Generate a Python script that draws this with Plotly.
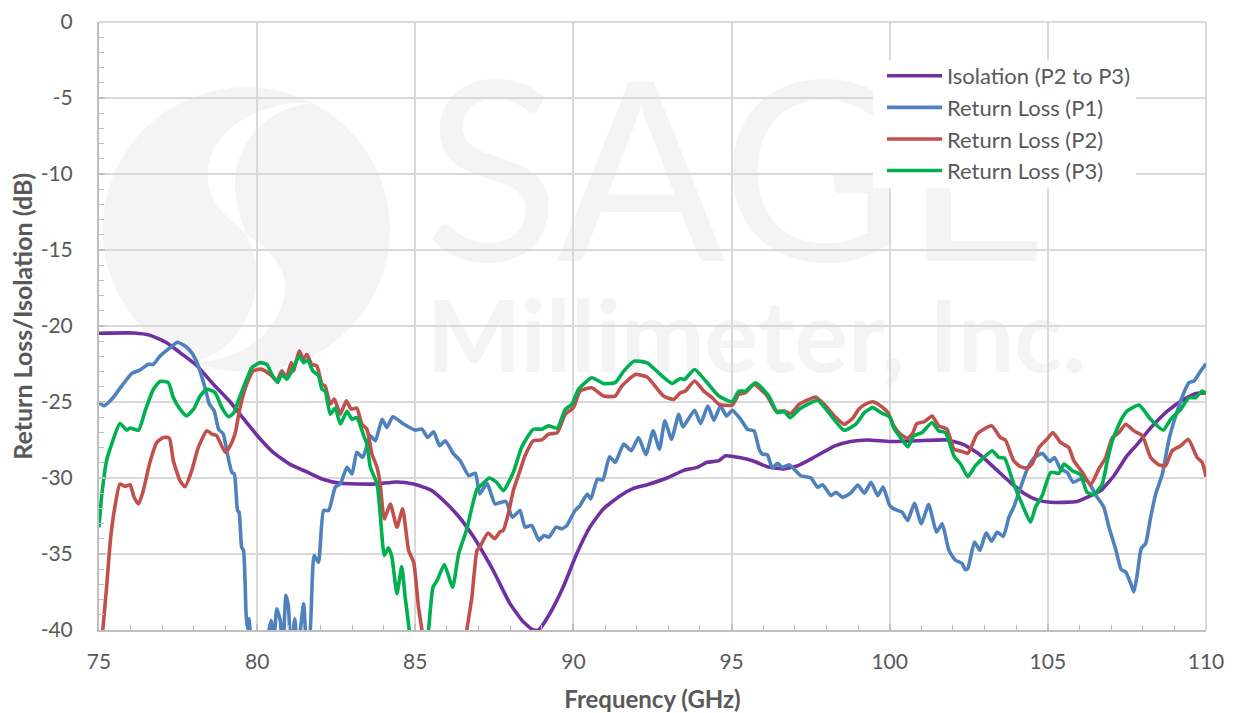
import plotly.graph_objects as go

x_ticks = list(range(75, 111, 5))
y_ticks = list(range(0, -41, -5))
y_labels = [str(v) for v in y_ticks]

iso_f = [75,76.1,76.6,77.14,77.56,78.09,78.6,79.15,79.57,80,80.5,81.04,81.57,82.1,82.63,83.7,84.4,84.95,85.5,85.9,86.4,86.85,87.04,87.46,87.99,88.41,88.73,88.9,89.26,89.68,90.1,90.53,90.95,91.48,91.9,92.33,92.96,93.49,93.91,94.23,94.6,94.81,95.29,95.71,96.13,96.6,97.08,97.6,98.25,98.77,99.3,100,100.86,101.8,102.34,102.87,103.4,103.82,104.24,104.66,105.07,105.93,106.24,106.67,107.09,107.5,107.83,108.25,108.78,109.3,109.72,110]
iso_v = [-20.48,-20.46,-20.6,-21.1,-21.75,-22.6,-23.8,-25,-26.1,-27.2,-28.3,-29.1,-29.6,-30.1,-30.35,-30.4,-30.26,-30.4,-30.8,-31.5,-32.6,-33.9,-34.54,-36.07,-38.25,-39.45,-40,-40,-38.9,-37.16,-35,-33.2,-32.03,-31.16,-30.68,-30.44,-30,-29.5,-29.3,-28.97,-28.86,-28.54,-28.67,-28.9,-29.26,-29.4,-29.2,-28.65,-27.9,-27.6,-27.5,-27.6,-27.55,-27.5,-27.8,-28.5,-29.5,-30.3,-31,-31.44,-31.6,-31.55,-31.27,-30.83,-29.85,-28.54,-27.77,-26.7,-25.6,-24.83,-24.43,-24.4]

p1_f = [75,75.16,75.45,75.72,76.03,76.3,76.56,76.72,76.93,77.25,77.48,77.72,77.93,78.14,78.35,78.49,78.64,78.78,78.93,79.06,79.2,79.28,79.38,79.43,79.51,79.57,79.65,79.69,79.74,79.78,79.95,80.2,80.36,80.44,80.52,80.62,80.73,80.81,80.91,80.99,81.07,81.19,81.28,81.47,81.57,81.64,81.8,81.94,82.1,82.26,82.47,82.63,82.84,83,83.15,83.34,83.58,83.74,83.95,84.1,84.29,84.63,85,85.21,85.39,85.58,85.77,85.95,86.21,86.42,86.69,86.9,87.04,87.27,87.52,87.86,88.07,88.31,88.47,88.68,88.91,89.07,89.23,89.45,89.63,89.79,90.05,90.21,90.44,90.55,90.76,90.93,91.14,91.32,91.59,91.83,92.06,92.29,92.52,92.72,92.89,93.1,93.33,93.46,93.83,94.02,94.25,94.44,94.65,94.84,95.02,95.29,95.5,95.71,95.87,95.97,96.13,96.29,96.45,96.61,96.82,97.19,97.51,97.72,97.88,98.14,98.3,98.51,98.76,98.99,99.2,99.41,99.62,99.79,100,100.13,100.39,100.57,100.78,101,101.23,101.48,101.66,101.87,102.08,102.29,102.39,102.47,102.68,102.85,103.05,103.22,103.4,103.59,103.77,103.92,104.14,104.35,104.56,104.82,105.06,105.21,105.4,105.61,105.8,106.03,106.24,106.56,106.77,106.93,107.14,107.32,107.46,107.62,107.72,107.83,107.95,108.09,108.25,108.41,108.62,108.83,109.04,109.3,109.46,109.62,109.83,110]
p1_v = [-25.03,-25.25,-24.7,-23.94,-23.13,-22.89,-22.52,-22.52,-21.97,-21.42,-21.07,-21.31,-21.75,-22.63,-24.05,-25.14,-25.58,-26.78,-27.11,-28.42,-29.63,-29.74,-32.14,-32.25,-34.55,-34.77,-38.93,-39.91,-39.26,-40.07,-43,-43,-40.2,-39.37,-41,-38.6,-39.37,-41.5,-37.72,-38.5,-41.5,-39.26,-41.5,-38.27,-41,-41,-35.1,-35.54,-32.14,-32.14,-30.6,-30.39,-29.3,-29.74,-28.3,-28.64,-27.22,-27.55,-26.13,-26.67,-25.97,-26.45,-26.85,-26.78,-27.33,-26.96,-27.88,-27.55,-28.42,-28.86,-29.85,-29.69,-31.05,-30.35,-31.7,-31.53,-32.58,-32.14,-33.23,-33.12,-34.1,-33.78,-33.89,-33.23,-33.34,-33.12,-32.14,-31.81,-31.05,-31.38,-30.07,-30.13,-28.6,-28.97,-27.77,-28.2,-27.34,-28.47,-26.9,-28.1,-26.24,-27.45,-25.81,-26.64,-25.55,-26.42,-25.26,-26.2,-25.26,-25.92,-25.55,-26.14,-26.79,-26.9,-28.1,-28.43,-28.47,-29.35,-29.04,-29.3,-29.13,-29.85,-30,-30.61,-30.44,-31.16,-30.94,-31.27,-31,-30.46,-31,-30.28,-31.16,-30.6,-31.81,-32.03,-32.25,-32.8,-31.66,-33.01,-31.75,-33.56,-33.01,-34.76,-35.41,-35.63,-36.03,-35.96,-34.21,-34.76,-33.6,-34.17,-33.56,-33.84,-32.58,-31.92,-30.61,-29.41,-28.69,-28.38,-28.91,-28.65,-29.41,-29.63,-30.28,-30.07,-30.17,-31.27,-31.92,-33.23,-34.65,-36.03,-36.18,-36.94,-37.49,-36.29,-34.65,-34.32,-32.58,-31.05,-29.74,-27.45,-25.92,-24.39,-23.73,-23.62,-22.97,-22.49]

p2_f = [75,75.12,75.24,75.37,75.5,75.66,75.82,75.98,76.11,76.25,76.4,76.61,76.83,77.04,77.22,77.35,77.56,77.72,77.93,78.14,78.41,78.57,78.72,78.99,79.12,79.3,79.46,79.67,79.88,80.1,80.25,80.46,80.62,80.78,80.92,81.08,81.15,81.33,81.47,81.57,81.73,81.89,82.05,82.15,82.31,82.44,82.63,82.82,82.97,83.15,83.31,83.47,83.63,83.79,83.89,84.02,84.21,84.42,84.6,84.79,84.95,85.1,85.21,85.5,86.3,86.63,86.79,86.95,87.04,87.3,87.51,87.67,87.78,87.94,88.1,88.31,88.47,88.73,89,89.21,89.49,89.74,90,90.21,90.58,90.95,91.32,91.53,91.96,92.33,92.85,93.17,93.38,93.54,93.83,94.12,94.39,94.6,95.02,95.23,95.44,95.71,96.13,96.4,96.66,96.87,97.14,97.45,97.66,97.93,98.25,98.56,98.83,99.02,99.23,99.47,99.76,99.94,100.13,100.34,100.55,100.71,100.86,101.08,101.34,101.55,101.81,102.03,102.29,102.47,102.76,102.97,103.23,103.5,103.66,103.92,104.14,104.35,104.5,104.72,104.97,105.16,105.4,105.66,105.82,106.09,106.35,106.61,106.83,107.04,107.25,107.46,107.72,107.99,108.25,108.51,108.72,108.93,109.2,109.44,109.72,109.88,110]
p2_v = [-43,-40,-37.18,-33.9,-31.93,-30.4,-30.55,-30.44,-31.27,-31.71,-30.83,-28.97,-27.66,-27.33,-27.37,-28.86,-30.18,-30.57,-29.52,-27.99,-26.89,-27.11,-27.22,-28.31,-27.99,-27.11,-25.36,-23.83,-22.95,-22.84,-22.95,-23.28,-23.6,-22.95,-23.39,-22.41,-22.95,-21.64,-22.19,-21.86,-22.52,-22.63,-23.83,-23.94,-25.14,-24.81,-25.8,-24.92,-25.47,-25.4,-26.45,-26.78,-28.42,-29.3,-30.39,-32.69,-31.71,-33.24,-32.03,-34.77,-35.54,-38.49,-40,-45,-45,-40,-37.83,-34.77,-34.54,-33.62,-34,-33.56,-33.45,-32.36,-30.83,-29.52,-28.54,-27.55,-27.49,-27.12,-27.01,-25.81,-25.37,-24.28,-24.06,-24.61,-24.61,-23.95,-23.19,-23.36,-24.61,-24.83,-24.39,-24.28,-23.62,-24.28,-24.72,-25.15,-25.2,-24.5,-24.39,-23.84,-24.61,-25.59,-25.59,-25.76,-25.15,-24.83,-24.67,-25.15,-25.92,-26.46,-26.07,-25.48,-25.15,-24.98,-25.33,-25.7,-26.57,-27.12,-27.38,-27.12,-26.42,-26.31,-25.92,-26.57,-26.79,-28.1,-28.25,-28.38,-27.12,-26.79,-26.57,-27.34,-27.51,-28.86,-29.26,-29.34,-29.08,-27.99,-27.45,-27.01,-27.66,-27.99,-28.86,-29.63,-30.46,-29.41,-28.65,-27.34,-27.01,-26.46,-26.9,-27.23,-28.65,-29.13,-29.19,-28.21,-27.88,-27.45,-28.65,-28.97,-29.91]

p3_f = [75,75.08,75.24,75.4,75.66,75.88,75.98,76.25,76.46,76.72,76.93,77.19,77.35,77.56,77.77,77.99,78.2,78.41,78.67,78.88,79.09,79.25,79.46,79.67,79.83,80.1,80.31,80.46,80.65,80.78,80.94,81.15,81.33,81.47,81.6,81.76,81.94,82.05,82.15,82.31,82.47,82.63,82.84,83,83.15,83.37,83.47,83.58,83.79,83.89,84.02,84.15,84.26,84.42,84.57,84.68,84.81,85,85.25,85.42,85.56,85.69,85.92,86.18,86.37,86.63,86.79,86.95,87.04,87.34,87.57,87.78,88.1,88.36,88.73,89,89.21,89.49,89.74,89.95,90.16,90.58,90.95,91.32,91.59,91.92,92.33,92.75,93.12,93.38,93.51,93.83,94.23,94.6,95.02,95.23,95.44,95.76,96.18,96.45,96.66,96.85,97.14,97.45,97.72,98.03,98.56,98.93,99.2,99.46,99.72,100,100.13,100.34,100.57,100.76,101.02,101.34,101.55,101.76,102.03,102.24,102.47,102.71,102.92,103.24,103.45,103.63,103.92,104.18,104.45,104.61,104.82,105.09,105.35,105.51,105.77,106.03,106.24,106.46,106.72,106.88,107.04,107.3,107.51,107.88,108.25,108.65,108.88,109.2,109.46,109.67,109.88,110]
p3_v = [-33.24,-31.27,-28.86,-27.77,-26.41,-26.85,-26.72,-26.85,-25.58,-24.16,-23.65,-23.72,-24.7,-25.47,-25.91,-25.47,-24.6,-24.16,-24.38,-25.36,-25.97,-25.75,-24.6,-23.5,-22.74,-22.41,-22.52,-23.17,-23.72,-23.17,-23.5,-22.74,-21.97,-22.41,-22.25,-22.95,-23.28,-24.16,-24.27,-25.8,-25.4,-26.45,-25.62,-26.13,-26.02,-27.22,-27.77,-29.3,-30.39,-32.36,-35.1,-34.6,-35.2,-37.62,-35.82,-37.83,-40,-44,-44,-40,-37.18,-36.74,-35.69,-37.18,-34.99,-33.35,-31.93,-30.72,-30.57,-30,-30.28,-30.83,-29.63,-27.99,-26.79,-26.79,-26.57,-26.72,-25.48,-25.15,-24.17,-23.41,-23.78,-23.73,-22.97,-22.31,-22.42,-23.19,-23.78,-23.45,-23.52,-22.86,-23.73,-24.61,-24.98,-24.28,-24.28,-23.73,-24.61,-25.7,-25.63,-26.03,-25.48,-25.11,-24.89,-25.59,-26.86,-26.46,-25.7,-25.37,-25.7,-25.98,-26.72,-27.34,-27.95,-27.23,-27.01,-26.35,-26.9,-27.01,-28.54,-29.08,-29.91,-29.19,-28.76,-28.21,-28.65,-28.69,-30.39,-31.7,-32.9,-31.92,-31.16,-29.63,-29.69,-29.08,-29.52,-29.78,-30.94,-31.09,-30.39,-28.86,-27.55,-26.24,-25.59,-25.2,-26.14,-26.86,-26.14,-25.48,-24.72,-24.72,-24.28,-24.45]

WIDTH, HEIGHT = 1233, 713
L, T, R, B = 99, 21.5, 1206, 630
PW, PH = R - L, B - T
FONT = "Lato"
TXT = "#595959"
GRID = "#d9d9d9"
AXIS = "#bfbfbf"
WM = "#f4f4f4"

def px(v): return (v - L) / PW
def py(v): return 1 - (v - T) / PH
def zx(v): return px(90 + v / 3)
def zy(v): return py(70 + v / 3)
def pt(a, b): return f"{zx(a):.5f},{zy(b):.5f}"

crescent = (
    "M" + pt(690, 97) +
    " C" + pt(520, 85) + " " + pt(350, 170) + " " + pt(353, 320) +
    " C" + pt(355, 400) + " " + pt(420, 450) + " " + pt(480, 500) +
    " C" + pt(540, 540) + " " + pt(585, 590) + " " + pt(585, 650) +
    " C" + pt(585, 760) + " " + pt(470, 880) + " " + pt(300, 875) +
    " C" + pt(420, 860) + " " + pt(500, 740) + " " + pt(500, 610) +
    " C" + pt(500, 530) + " " + pt(435, 450) + " " + pt(435, 340) +
    " C" + pt(435, 210) + " " + pt(540, 100) + " " + pt(690, 97) + " Z"
)

shapes = [
    dict(type="circle", xref="paper", yref="paper", layer="below",
         x0=zx(38), x1=zx(900), y0=zy(905), y1=zy(50), fillcolor=WM, line_width=0),
    dict(type="path", xref="paper", yref="paper", layer="below", path=crescent,
         fillcolor="white", line_width=0),
    dict(type="rect", xref="paper", yref="paper", layer="below",
         x0=px(376), x1=px(1096), y0=py(291), y1=py(31), line_width=0, fillcolor="rgba(0,0,0,0)",
         label=dict(text="SAGE", textposition="middle center",
                    font=dict(family=FONT, size=250, color=WM))),
    dict(type="rect", xref="paper", yref="paper", layer="below",
         x0=px(380), x1=px(1133), y0=py(387), y1=py(277), line_width=0, fillcolor="rgba(0,0,0,0)",
         label=dict(text="<b>Millimeter, Inc.</b>", textposition="middle center",
                    font=dict(family=FONT, size=100, color=WM))),
    dict(type="line", xref="paper", yref="paper", layer="below",
         x0=0, x1=1, y0=1, y1=1, line=dict(color=GRID, width=2)),
    dict(type="line", xref="paper", yref="paper", layer="below",
         x0=1, x1=1, y0=0, y1=1, line=dict(color=GRID, width=2)),
    dict(type="rect", xref="paper", yref="paper", layer="above",
         x0=px(873), x1=px(1136), y0=py(188), y1=py(60), line_width=0, fillcolor="white"),
]

fig = go.Figure()
series = [
    ("Isolation (P2 to P3)", iso_f, iso_v, "#7030a0"),
    ("Return Loss (P1)", p1_f, p1_v, "#4f81bd"),
    ("Return Loss (P2)", p2_f, p2_v, "#c0504d"),
    ("Return Loss (P3)", p3_f, p3_v, "#00b050"),
]
for name, f, v, c in series:
    fig.add_trace(go.Scatter(x=f, y=v, name=name, mode="lines",
                             line=dict(color=c, width=3.6, shape="spline", smoothing=0.5)))

fig.update_layout(
    width=WIDTH, height=HEIGHT,
    margin=dict(l=L, r=WIDTH - R, t=T, b=HEIGHT - B, autoexpand=False),
    paper_bgcolor="white", plot_bgcolor="rgba(0,0,0,0)",
    font=dict(family=FONT, color=TXT, size=21),
    shapes=shapes,
    annotations=[dict(text="<b>Return Loss/Isolation (dB)</b>", textangle=-90,
                      xref="paper", yref="paper", x=px(22), y=py(316.5),
                      xanchor="center", yanchor="middle", showarrow=False,
                      font=dict(family=FONT, size=25, color=TXT))],
    legend=dict(x=px(882), y=py(54.5), xanchor="left", yanchor="top",
                bgcolor="rgba(255,255,255,0)", borderwidth=0, itemwidth=55,
                font=dict(family=FONT, size=22, color=TXT)),
)
fig.update_xaxes(
    range=[75, 110], tickvals=x_ticks, ticktext=[str(v) for v in x_ticks],
    showgrid=True, gridcolor=GRID, gridwidth=2, zeroline=False,
    showline=True, linecolor=AXIS, linewidth=2,
    ticks="inside", ticklen=6, tickcolor=AXIS, tickwidth=2,
    ticklabelstandoff=12,
    tickfont=dict(family=FONT, size=21, color=TXT),
    minor=dict(dtick=1, ticks="inside", ticklen=5, tickcolor=AXIS, tickwidth=1, showgrid=False),
    title=dict(text="<b>Frequency (GHz)</b>", standoff=27, font=dict(family=FONT, size=24, color=TXT)),
)
fig.update_yaxes(
    range=[-40, 0], tickvals=y_ticks, ticktext=y_labels,
    showgrid=True, gridcolor=GRID, gridwidth=2, zeroline=False,
    showline=True, linecolor=AXIS, linewidth=2,
    ticks="inside", ticklen=6, tickcolor=AXIS, tickwidth=2,
    ticklabelstandoff=20,
    tickfont=dict(family=FONT, size=21, color=TXT),
    minor=dict(dtick=1, ticks="inside", ticklen=5, tickcolor=AXIS, tickwidth=1, showgrid=False),
)
fig.write_html("out.html", post_script="document.body.style.margin='0';",
               config={"displayModeBar": False})
